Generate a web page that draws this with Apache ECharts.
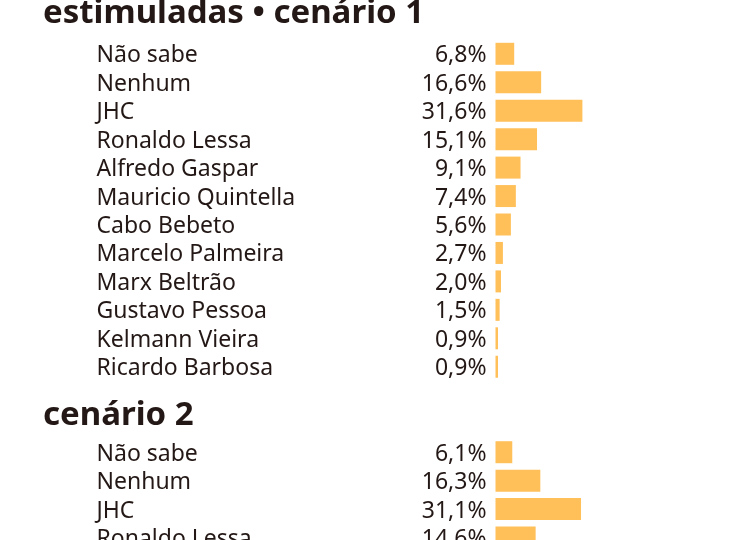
<!DOCTYPE html>
<html>
<head>
<meta charset="utf-8">
<script src="https://cdn.jsdelivr.net/npm/echarts@6/dist/echarts.min.js"></script>
<style>html,body{margin:0;padding:0;background:#fff;overflow:hidden;width:751px;height:540px;}#c{width:751px;height:600px;}</style>
</head>
<body>
<div id="c"></div>
<script>
const title1 = 'estimuladas • cenário 1';
const title2 = 'cenário 2';
const names1 = ['Não sabe','Nenhum','JHC','Ronaldo Lessa','Alfredo Gaspar','Mauricio Quintella','Cabo Bebeto','Marcelo Palmeira','Marx Beltrão','Gustavo Pessoa','Kelmann Vieira','Ricardo Barbosa'];
const values1 = [6.8,16.6,31.6,15.1,9.1,7.4,5.6,2.7,2.0,1.5,0.9,0.9];
const names2 = ['Não sabe','Nenhum','JHC','Ronaldo Lessa'];
const values2 = [6.1,16.3,31.1,14.6];

const FONT = '"Noto Sans"';
const INK = '#231815';
const BAR = '#ffc05a';
const PITCH = 28.45;
const GRID_LEFT = 495.5;
const NAME_X = 96.5;

function fmt(v){ return v.toFixed(1).replace('.', ',') + '%'; }

const chart = echarts.init(document.getElementById('c'), null, {renderer:'canvas'});
function yAx(idx, names){
  return {
    type:'category', gridIndex:idx, data:names, inverse:true,
    axisLine:{show:false}, axisTick:{show:false}, splitLine:{show:false},
    axisLabel:{show:false}
  };
}
function xAx(idx){
  return {type:'value', gridIndex:idx, min:0, max:80, show:false};
}
const span = GRID_LEFT - NAME_X;
function ser(idx, vals){
  return {
    type:'bar', xAxisIndex:idx, yAxisIndex:idx, data:vals, barWidth:22,
    itemStyle:{color:BAR}, silent:true, animation:false,
    label:{show:true, position:[-span, '50%'], align:'left', verticalAlign:'middle',
      offset:[0,2],
      formatter:p=>'{n|' + p.name + '}{v|' + fmt(p.value) + '}',
      rich:{
        n:{width:300, align:'left', color:INK, fontFamily:FONT, fontSize:23},
        v:{width:span - 9 - 300, align:'right', color:INK, fontFamily:FONT, fontSize:23}
      }
    }
  };
}
const top1 = 53.8 - PITCH/2;
const top2 = 452.2 - PITCH/2;
chart.setOption({
  animation:false,
  title:[
    {text:title1, left:38, top:-8, textStyle:{fontFamily:FONT, fontWeight:'bold', fontSize:33, color:INK}},
    {text:title2, left:38, top:394, textStyle:{fontFamily:FONT, fontWeight:'bold', fontSize:33, color:INK}}
  ],
  grid:[
    {left:GRID_LEFT, width:220, top:top1, height:PITCH*names1.length},
    {left:GRID_LEFT, width:220, top:top2, height:PITCH*names2.length}
  ],
  xAxis:[xAx(0), xAx(1)],
  yAxis:[yAx(0, names1), yAx(1, names2)],
  series:[ser(0, values1), ser(1, values2)]
});
</script>
</body>
</html>
